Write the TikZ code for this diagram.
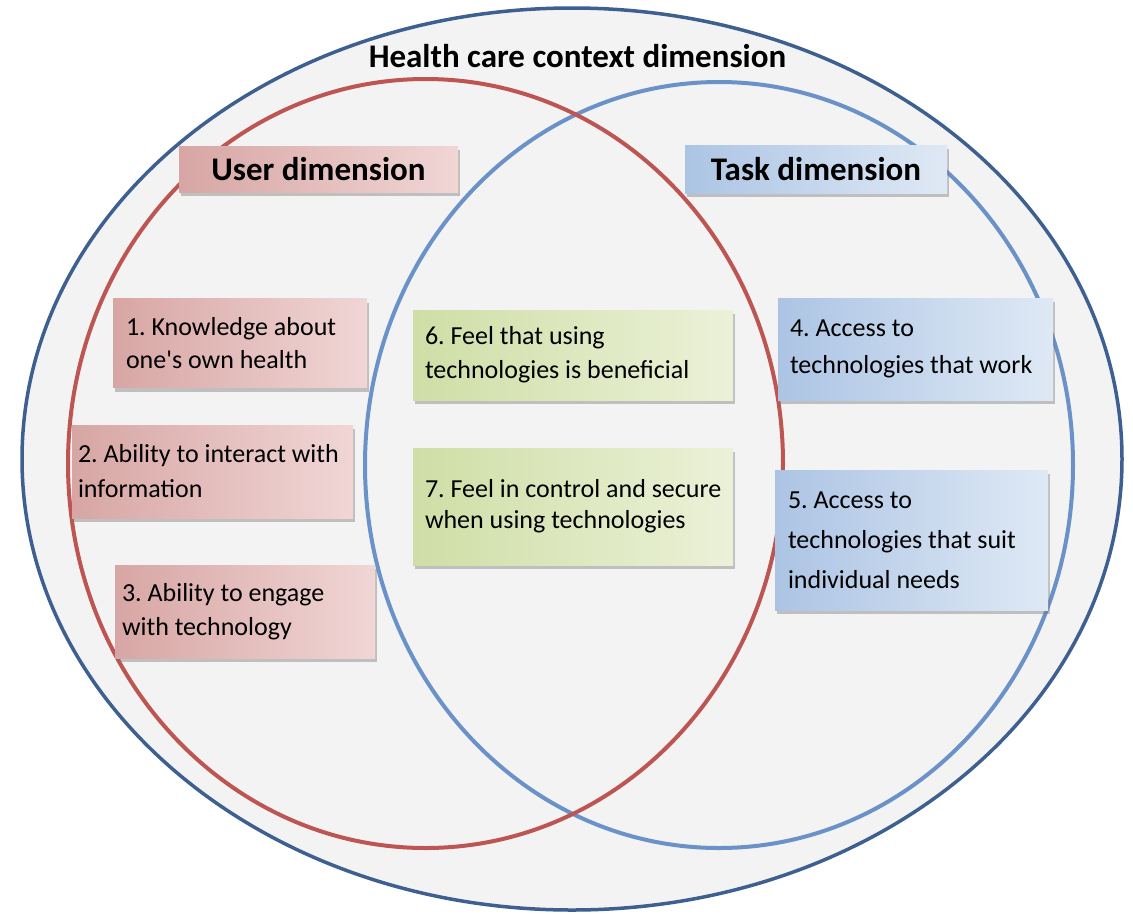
\documentclass[tikz,border=0pt]{standalone}
\usepackage{fontspec}
\setmainfont{Carlito}
\usetikzlibrary{shadows}
\frenchspacing

\definecolor{ctxline}{RGB}{62,96,145}
\definecolor{ctxfill}{RGB}{243,243,243}
\definecolor{userline}{RGB}{189,86,82}
\definecolor{taskline}{RGB}{106,146,200}
\definecolor{userdark}{RGB}{215,166,164}
\definecolor{userlight}{RGB}{240,214,213}
\definecolor{feeldark}{RGB}{207,222,166}
\definecolor{feellight}{RGB}{235,241,216}
\definecolor{taskdark}{RGB}{172,196,228}
\definecolor{tasklight}{RGB}{223,233,245}

\begin{document}
\begin{tikzpicture}[x=1pt, y=-1pt,
  card/.style={draw=none, inner sep=0pt, drop shadow={shadow xshift=2pt, shadow yshift=-4pt, fill=black!55, opacity=.4}},
  usercard/.style={card, left color=userdark, right color=userlight},
  feelcard/.style={card, left color=feeldark, right color=feellight},
  taskcard/.style={card, left color=taskdark, right color=tasklight},
  cardtext/.style={anchor=west, align=left, inner sep=0pt, font=\fontsize{26}{#1}\selectfont},
  cardtext/.default=34,
  header/.style={inner sep=0pt, font=\fontsize{33}{40}\selectfont\bfseries}
]

\useasboundingbox (0,0) rectangle (1133,914);
\fill[white] (0,0) rectangle (1133,914);

%% DIMENSION RINGS
\fill[ctxfill] (572,459) ellipse [x radius=550, y radius=451];
\draw[taskline, line width=4pt] (719,465) ellipse [x radius=354, y radius=383];
\draw[userline, line width=4pt] (425.5,463.5) ellipse [x radius=357.5, y radius=384.5];
\draw[ctxline, line width=3.5pt] (572,459) ellipse [x radius=550, y radius=451];

\node[header, anchor=base] (ctx_title) at (577.5,67) {Health care context dimension};

%% USER DIMENSION
\node[usercard, minimum width=279pt, minimum height=46pt] (user_hdr) at (318.5,169) {};
\node[header] (user_lbl) at (user_hdr.center) {User dimension};

\node[usercard, minimum width=254pt, minimum height=89pt] (user_1) at (240,343) {};
\node[cardtext=33] (user_1_txt) at ([xshift=13pt]user_1.west) {1. Knowledge about\\one\textquotesingle s own health};

\node[usercard, minimum width=281pt, minimum height=93pt] (user_2) at (212.5,471.5) {};
\node[cardtext=35] (user_2_txt) at ([xshift=6pt]user_2.west) {2. Ability to interact with\\information};

\node[usercard, minimum width=260pt, minimum height=93pt] (user_3) at (245,611.5) {};
\node[cardtext] (user_3_txt) at ([xshift=7pt]user_3.west) {3. Ability to engage\\with technology};

%% SHARED (USER AND TASK)
\node[feelcard, minimum width=320pt, minimum height=90pt] (feel_6) at (573,355) {};
\node[cardtext] (feel_6_txt) at ([xshift=12pt]feel_6.west) {6. Feel that using\\technologies is beneficial};

\node[feelcard, minimum width=320pt, minimum height=117pt] (feel_7) at (573,506.5) {};
\node[cardtext=31] (feel_7_txt) at ([xshift=12pt]feel_7.west) {7. Feel in control and secure\\when using technologies};

%% TASK DIMENSION
\node[taskcard, minimum width=262pt, minimum height=48pt] (task_hdr) at (816,169) {};
\node[header] (task_lbl) at (task_hdr.center) {Task dimension};

\node[taskcard, minimum width=275pt, minimum height=102pt] (task_4) at (915.5,349) {};
\node[cardtext=37] (task_4_txt) at ([xshift=12pt]task_4.west) {4. Access to\\technologies that work};

\node[taskcard, minimum width=273pt, minimum height=140pt] (task_5) at (911.5,540) {};
\node[cardtext=40] (task_5_txt) at ([xshift=13pt]task_5.west) {5. Access to\\technologies that suit\\individual needs};

\end{tikzpicture}
\end{document}
